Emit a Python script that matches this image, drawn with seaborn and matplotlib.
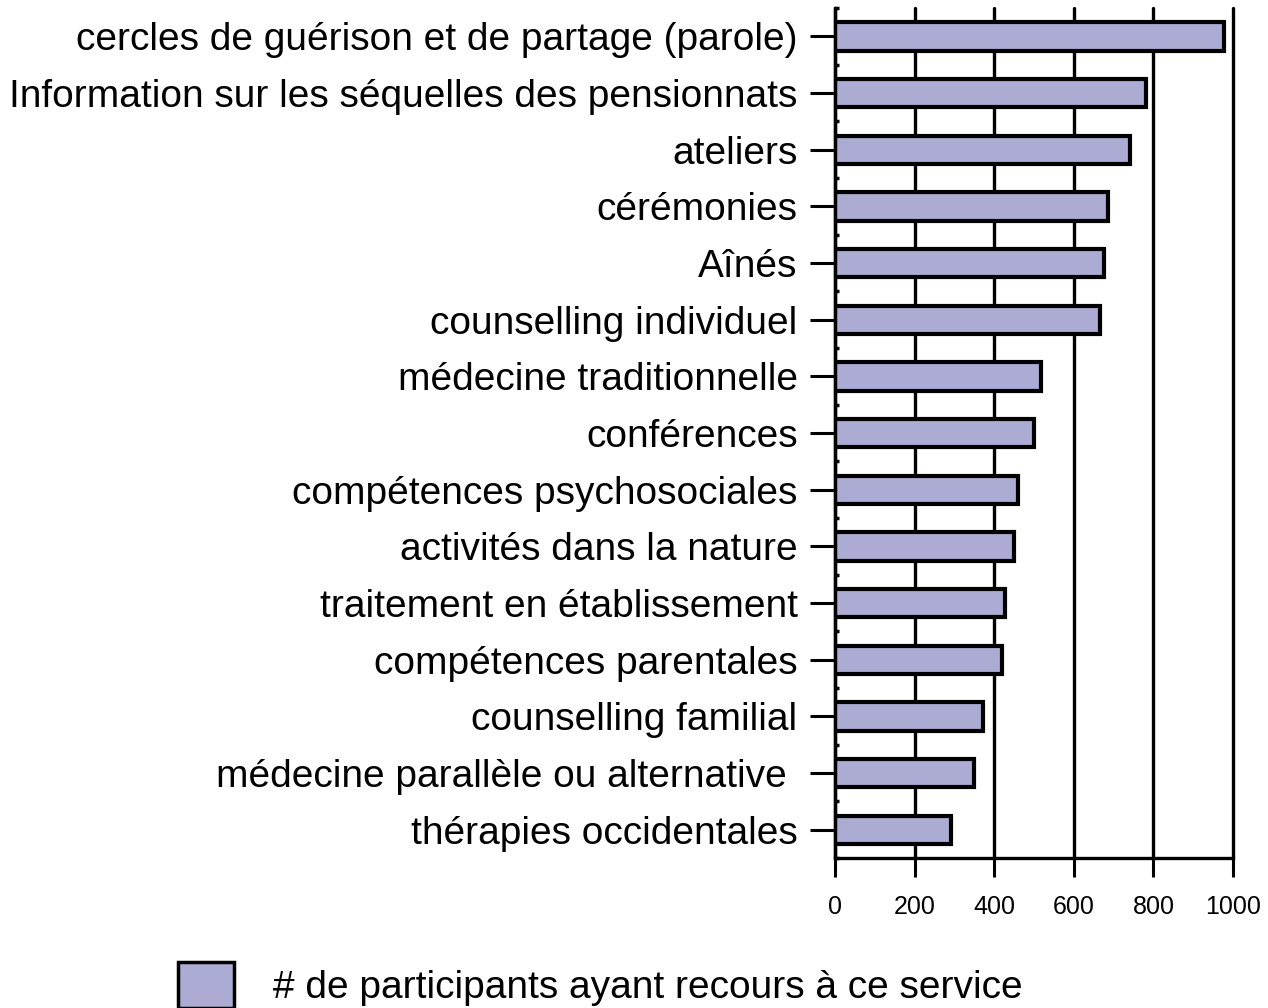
import matplotlib

matplotlib.use("Agg")
import matplotlib.pyplot as plt
import numpy as np
import pandas as pd
import seaborn as sns
from matplotlib.patches import Patch

categories = [
    "cercles de guérison et de partage (parole)",
    "Information sur les séquelles des pensionnats",
    "ateliers",
    "cérémonies",
    "Aînés",
    "counselling individuel",
    "médecine traditionnelle",
    "conférences",
    "compétences psychosociales",
    "activités dans la nature",
    "traitement en établissement",
    "compétences parentales",
    "counselling familial",
    "médecine parallèle ou alternative ",
    "thérapies occidentales",
]
participants = [978, 782, 742, 685, 676, 665, 517, 499, 459, 449, 428, 420, 371, 350, 292]
x_ticks = [0, 200, 400, 600, 800, 1000]
legend_label = "# de participants ayant recours à ce service"

bar_color = "#ababd3"

sns.set_style("white")
plt.rcParams["font.family"] = ["Liberation Sans", "DejaVu Sans"]
plt.rcParams["text.color"] = "black"
plt.rcParams["xtick.color"] = "black"
plt.rcParams["ytick.color"] = "black"

df = pd.DataFrame({"service": categories, "n": participants})

W, H = 1268, 1008
fig = plt.figure(figsize=(W / 100, H / 100), dpi=100)
left, right, top, bottom = 835, 1233, 8, 858
ax = fig.add_axes([left / W, 1 - bottom / H, (right - left) / W, (bottom - top) / H])

sns.barplot(data=df, x="n", y="service", orient="h", color=bar_color,
            edgecolor="black", linewidth=3, width=0.5, saturation=1, ax=ax)

ax.set_xlim(0, 1000)
ax.set_ylim(len(categories) - 0.5, -0.5)
ax.set_xticks(x_ticks)
ax.set_xticklabels([str(t) for t in x_ticks])
ax.grid(axis="x", color="black", linewidth=2.4)
ax.grid(axis="y", visible=False)
ax.set_axisbelow(True)
for gl in ax.get_xgridlines():
    gl.set_clip_on(False)

for side in ["top", "right"]:
    ax.spines[side].set_visible(False)
for side in ["left", "bottom"]:
    ax.spines[side].set_color("black")
    ax.spines[side].set_linewidth(2.4)

ax.tick_params(axis="y", which="major", direction="out", length=18, width=2.2,
               labelsize=28, pad=9, left=True)
ax.set_yticks(np.arange(len(categories) + 1) - 0.5, minor=True)
ax.tick_params(axis="y", which="minor", direction="in", length=3, width=2.5, left=True)
ax.tick_params(axis="x", direction="out", length=14, width=2.2,
               labelsize=18, pad=13, bottom=True)
ax.set_xlabel("")
ax.set_ylabel("")

handle = Patch(facecolor=bar_color, edgecolor="black", linewidth=2.5)
fig.legend(handles=[handle], labels=[legend_label], loc="center left",
           bbox_to_anchor=(143 / W, 1 - 985 / H), frameon=False, fontsize=28,
           handlelength=1.45, handleheight=1.45, handletextpad=1.0)

fig.savefig("out.png", dpi=100)
